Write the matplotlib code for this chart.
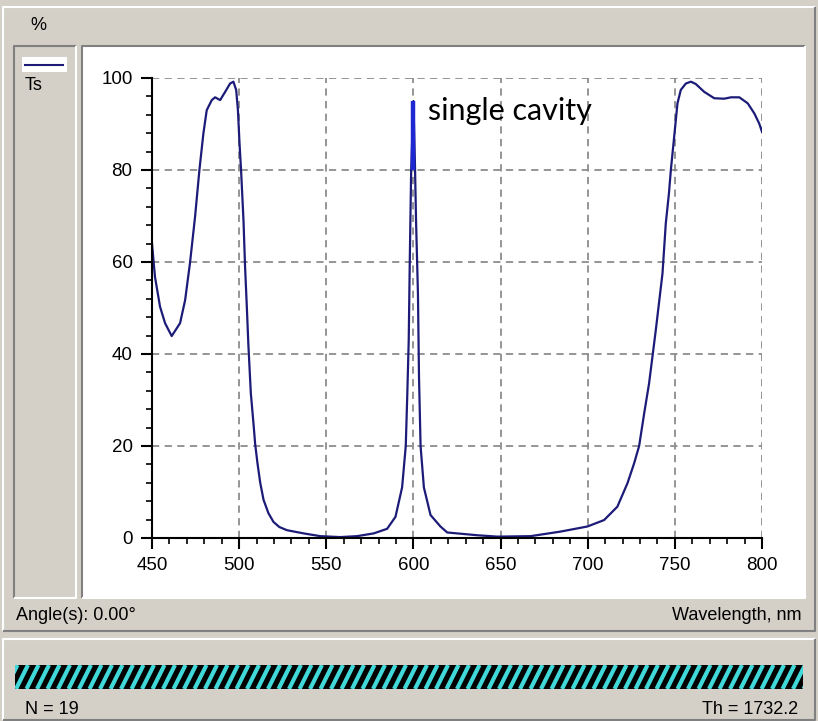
import numpy as np
import matplotlib
matplotlib.use('Agg')
import matplotlib.pyplot as plt
from matplotlib.patches import Rectangle

# transmittance Ts (%)
wavelength = [450, 451.7, 454.6, 457.5, 461.3, 466.1, 469, 471.8, 474.7, 477.2,
              479.5, 481.4, 484.3, 486.2, 489.1, 492, 494.8, 496.7, 498.3, 499.3,
              500.2, 501.1, 502.5, 503.4, 504.4, 505.3, 506.7, 508.2, 509.2, 510.5,
              512.1, 514, 516.8, 519.7, 523, 527.4, 537, 546.6, 558, 567.6,
              577.2, 584.9, 589.7, 593.5, 595.6, 596.5, 597.3, 597.9, 598.7, 600,
              600.9, 601.5, 602.6, 603.2, 604.1, 606, 609.8, 615.5, 619.4, 625.1,
              636.6, 648.1, 667.2, 684.5, 699.8, 709.4, 717, 722.8, 726.6, 729.5,
              732.4, 735.2, 739, 742.9, 744.8, 746.6, 747.7, 749.6, 751.5, 753.4,
              756.3, 759.2, 762, 766.8, 772.6, 778.3, 782.2, 787, 791.8, 795.6,
              798.4, 800]
ts = [64, 56.8, 50.3, 46.7, 43.9, 46.7, 51.7, 59.8, 69.8, 80,
      88, 93, 95.2, 95.8, 95.2, 97, 98.8, 99.2, 97.4, 93,
      85.9, 80, 69, 59, 50.3, 42, 31.5, 25, 20.4, 16.3,
      12, 8.3, 5.4, 3.5, 2.4, 1.7, 1.0, 0.4, 0.2, 0.4,
      1.0, 2.0, 4.6, 11, 20, 31.5, 43, 60, 80, 95,
      80.7, 69, 53, 35, 20, 11, 5, 2.5, 1.2, 1.0,
      0.6, 0.3, 0.4, 1.4, 2.5, 3.9, 6.8, 11.9, 16.2, 20,
      27.1, 33.6, 45, 57.5, 68.4, 74.9, 80, 87.2, 94.5, 97.4,
      98.8, 99.2, 98.7, 97, 95.6, 95.5, 95.8, 95.8, 94.5, 92.3,
      90.1, 88.3]

peak_wl = 600
peak_lo, peak_hi = 80, 95

xticks = [450, 500, 550, 600, 650, 700, 750, 800]
yticks = [0, 20, 40, 60, 80, 100]

UI = ['Liberation Sans', 'DejaVu Sans']
GRAY = '#d4d0c8'
NAVY = '#1c1c78'

W, H = 818, 721
fig = plt.figure(figsize=(W / 100, H / 100), dpi=100, facecolor=GRAY)

# window chrome, drawn in pixel units
bg = fig.add_axes([0, 0, 1, 1])
bg.set_xlim(0, W)
bg.set_ylim(H, 0)
bg.axis('off')


def bevel(x0, y0, x1, y1, sunken=True, fc=None):
    if fc is not None:
        bg.add_patch(Rectangle((x0, y0), x1 - x0, y1 - y0, fc=fc, ec='none'))
    dark, light = ('#808080', '#ffffff') if sunken else ('#ffffff', '#808080')
    bg.plot([x0, x0, x1], [y1, y0, y0], c=dark, lw=1.5, solid_capstyle='butt')
    bg.plot([x0, x1, x1], [y1, y1, y0], c=light, lw=1.5, solid_capstyle='butt')


bevel(3, 7, 815, 631, sunken=False)
bevel(14, 46, 76, 598, fc=GRAY)
bevel(82, 46, 805, 598, fc='white')
bevel(3, 639, 815, 720, sunken=False)

bg.text(38, 26, '%', family=UI, fontsize=13, ha='center', va='center')
bg.add_patch(Rectangle((22, 57), 45, 15, fc='white', ec='none'))
bg.plot([25, 63], [64.5, 64.5], c=NAVY, lw=1.5)
bg.text(25, 85, 'Ts', family=UI, fontsize=13, ha='left', va='center')

bg.text(16, 615, 'Angle(s): 0.00°', family=UI, fontsize=13, ha='left', va='center')
bg.text(802, 615, 'Wavelength, nm', family=UI, fontsize=13, ha='right', va='center')

# layer bar
bx0, bx1, by0, by1 = 15, 803, 665, 689
bg.add_patch(Rectangle((bx0, by0), bx1 - bx0, by1 - by0, fc='black', ec='none'))
bar = Rectangle((bx0, by0), bx1 - bx0, by1 - by0, fc='none', ec='none')
bg.add_patch(bar)
for x in np.arange(bx0 - 20, bx1 + 20, 10.5):
    ln, = bg.plot([x, x + 12], [by1, by0], c='#40d8d8', lw=3.0, solid_capstyle='butt')
    ln.set_clip_path(bar)

bg.text(25, 710, 'N = 19', family=UI, fontsize=13, ha='left', va='center')
bg.text(798, 710, 'Th = 1732.2', family=UI, fontsize=13, ha='right', va='center')

# chart
ax = fig.add_axes([152 / W, (H - 538) / H, 610 / W, 460 / H])
ax.patch.set_alpha(0)
ax.plot(wavelength, ts, c=NAVY, lw=1.6)
ax.vlines(peak_wl, peak_lo, peak_hi, colors='#1e28d2', lw=3.2)
ax.set_xlim(450, 800)
ax.set_ylim(0, 100)
ax.set_xticks(xticks)
ax.set_yticks(yticks)
ax.set_xticks(np.arange(450, 801, 10), minor=True)
ax.set_yticks(np.arange(0, 101, 4), minor=True)
for s in ('top', 'right'):
    ax.spines[s].set_visible(False)
for s in ('left', 'bottom'):
    ax.spines[s].set_linewidth(1.5)
ax.tick_params(which='major', direction='out', length=8, width=1.5, labelsize=13.5, pad=6)
ax.tick_params(which='minor', direction='out', length=4, width=1.2)
for lab in ax.get_xticklabels() + ax.get_yticklabels():
    lab.set_family(UI)
ax.grid(True, which='major', ls=(0, (4, 3)), c='#8c8c8c', lw=1.3)
ax.text(608.3, 90.9, 'single cavity', family=['Lato', 'DejaVu Sans'], fontsize=22,
        ha='left', va='baseline')

fig.savefig('out.png', dpi=100, facecolor=GRAY)
